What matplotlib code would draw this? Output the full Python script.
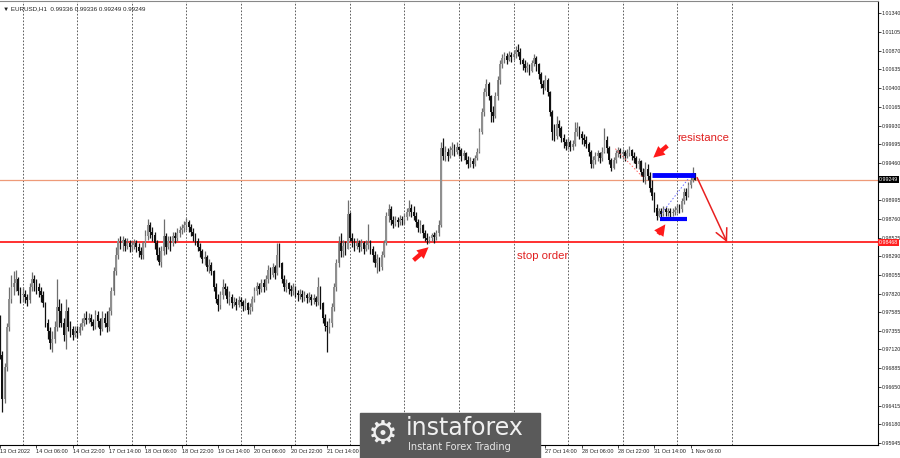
import numpy as np
import matplotlib
matplotlib.use('Agg')
import matplotlib.pyplot as plt
from matplotlib.patches import Rectangle
from matplotlib.transforms import blended_transform_factory

# EURUSD H1, prices in 1/10000 units
first_open = 9750

closes = [
    9705, 9650, 9690, 9740, 9775, 9790, 9795, 9800, 9785, 9780,
    9782, 9778, 9774, 9790, 9800, 9795, 9790, 9785, 9780, 9770,
    9745, 9735, 9720, 9725, 9740, 9765, 9760, 9745, 9730, 9760,
    9740, 9738, 9730, 9735, 9733, 9740, 9745, 9752, 9749, 9752,
    9747, 9742, 9755, 9748, 9738, 9752, 9745, 9740, 9760, 9785,
    9810, 9830, 9848, 9845, 9850, 9842, 9846, 9840, 9843, 9845,
    9840, 9835, 9830, 9845, 9855, 9868, 9860, 9856, 9845, 9830,
    9822, 9835, 9855, 9840, 9848, 9845, 9855, 9852, 9858, 9862,
    9865, 9868, 9872, 9866, 9860, 9855, 9848, 9840, 9835, 9825,
    9828, 9815, 9818, 9810, 9790, 9775, 9768, 9780, 9790, 9788,
    9775, 9778, 9770, 9772, 9768, 9774, 9771, 9766, 9770, 9762,
    9765, 9775, 9785, 9792, 9788, 9795, 9790, 9800, 9812, 9805,
    9815, 9808, 9830, 9820, 9800, 9790, 9795, 9788, 9785, 9790,
    9783, 9780, 9782, 9778, 9780, 9776, 9778, 9774, 9776, 9772,
    9790, 9770, 9752, 9742, 9740, 9745, 9765, 9790, 9820, 9845,
    9835, 9842, 9838, 9882, 9852, 9848, 9842, 9846, 9840, 9845,
    9838, 9843, 9846, 9838, 9830, 9820, 9825, 9815, 9830, 9845,
    9880, 9888, 9875, 9870, 9875, 9872, 9876, 9874, 9878, 9885,
    9890, 9885, 9880, 9872, 9865, 9868, 9858, 9852, 9850, 9852,
    9856, 9853, 9858, 9868, 9965, 9955, 9960, 9955, 9962, 9965,
    9960, 9966, 9962, 9955, 9958, 9950, 9945, 9948, 9945, 9952,
    9960, 9985, 10010, 10035, 10045, 10030, 10010, 10005, 10030, 10050,
    10070, 10078, 10080, 10076, 10082, 10079, 10083, 10088, 10085, 10075,
    10070, 10065, 10068, 10062, 10072, 10078, 10070, 10058, 10045, 10040,
    10050, 10035, 10010, 9985, 9980, 9995, 9990, 9978, 9972, 9968,
    9972, 9966, 9970, 9985, 9990, 9982, 9978, 9975, 9970, 9960,
    9945, 9950, 9955, 9958, 9952, 9960, 9975, 9965, 9950, 9940,
    9950, 9958, 9962, 9957, 9960, 9955, 9958, 9962, 9955, 9952,
    9945, 9948, 9935, 9928, 9938, 9930, 9915, 9905, 9890, 9880,
    9886, 9882, 9888, 9884, 9886, 9883, 9885, 9887, 9890, 9888,
    9898, 9910, 9905, 9918, 9925, 9934, 9925,
]

highs = [
    9755, 9710, 9695, 9745, 9790, 9805, 9810, 9812, 9803, 9790,
    9790, 9786, 9782, 9795, 9809, 9805, 9800, 9795, 9790, 9785,
    9772, 9750, 9740, 9735, 9748, 9800, 9775, 9770, 9752, 9775,
    9765, 9748, 9742, 9742, 9742, 9745, 9752, 9758, 9760, 9758,
    9756, 9750, 9762, 9760, 9752, 9760, 9758, 9760, 9765, 9790,
    9815, 9840, 9852, 9855, 9855, 9852, 9852, 9850, 9848, 9851,
    9850, 9845, 9840, 9848, 9862, 9876, 9872, 9866, 9860, 9850,
    9840, 9842, 9876, 9858, 9855, 9855, 9860, 9860, 9864, 9867,
    9870, 9873, 9877, 9875, 9870, 9864, 9858, 9852, 9845, 9838,
    9835, 9830, 9825, 9822, 9812, 9795, 9782, 9785, 9800, 9796,
    9792, 9785, 9782, 9778, 9776, 9779, 9778, 9774, 9776, 9772,
    9770, 9779, 9790, 9797, 9796, 9800, 9800, 9805, 9818, 9815,
    9820, 9818, 9846, 9845, 9822, 9805, 9800, 9797, 9793, 9795,
    9792, 9787, 9788, 9786, 9785, 9783, 9784, 9782, 9781, 9779,
    9803, 9792, 9772, 9756, 9748, 9752, 9770, 9795, 9825, 9855,
    9858, 9850, 9848, 9899, 9885, 9858, 9852, 9852, 9850, 9851,
    9848, 9849, 9870, 9850, 9842, 9835, 9832, 9828, 9835, 9850,
    9885, 9895, 9892, 9880, 9880, 9878, 9881, 9880, 9883, 9890,
    9899, 9895, 9892, 9884, 9876, 9874, 9870, 9862, 9858, 9855,
    9858, 9860, 9862, 9874, 9972, 9978, 9968, 9965, 9968, 9972,
    9970, 9972, 9968, 9965, 9963, 9960, 9955, 9953, 9952, 9956,
    9965, 9990, 10015, 10040, 10051, 10048, 10032, 10018, 10035, 10055,
    10076, 10083, 10086, 10084, 10087, 10086, 10088, 10093, 10095, 10090,
    10078, 10075, 10073, 10070, 10076, 10083, 10080, 10072, 10060, 10050,
    10056, 10053, 10036, 10012, 9995, 10005, 10000, 9993, 9982, 9976,
    9977, 9975, 9975, 9998, 9998, 9993, 9986, 9983, 9980, 9972,
    9962, 9955, 9960, 9962, 9960, 9966, 9990, 9980, 9968, 9952,
    9954, 9962, 9966, 9965, 9964, 9962, 9964, 9967, 9964, 9960,
    9955, 9952, 9950, 9940, 9947, 9945, 9935, 9925, 9910, 9895,
    9890, 9890, 9892, 9891, 9890, 9889, 9890, 9892, 9895, 9895,
    9902, 9915, 9915, 9922, 9930, 9941, 9934,
]

lows = [
    9700, 9633, 9645, 9685, 9735, 9770, 9780, 9785, 9780, 9770,
    9772, 9770, 9766, 9770, 9785, 9785, 9782, 9778, 9772, 9765,
    9740, 9725, 9712, 9709, 9720, 9735, 9740, 9740, 9722, 9712,
    9735, 9728, 9724, 9727, 9726, 9730, 9737, 9742, 9744, 9745,
    9741, 9736, 9738, 9740, 9730, 9735, 9740, 9734, 9735, 9755,
    9780, 9805, 9826, 9838, 9836, 9835, 9838, 9834, 9835, 9838,
    9834, 9828, 9825, 9826, 9840, 9850, 9852, 9848, 9838, 9824,
    9818, 9815, 9830, 9832, 9838, 9835, 9842, 9845, 9848, 9853,
    9857, 9860, 9862, 9860, 9855, 9848, 9843, 9835, 9828, 9820,
    9818, 9810, 9808, 9805, 9785, 9770, 9760, 9763, 9775, 9780,
    9770, 9768, 9764, 9766, 9762, 9765, 9766, 9760, 9762, 9756,
    9757, 9760, 9772, 9780, 9782, 9784, 9784, 9786, 9795, 9800,
    9803, 9800, 9805, 9815, 9795, 9785, 9784, 9782, 9779, 9780,
    9778, 9773, 9775, 9772, 9773, 9770, 9772, 9768, 9769, 9767,
    9768, 9763, 9745, 9735, 9709, 9732, 9740, 9760, 9785, 9815,
    9828, 9828, 9830, 9838, 9848, 9840, 9836, 9838, 9834, 9836,
    9832, 9835, 9838, 9832, 9822, 9815, 9808, 9810, 9812, 9828,
    9843, 9872, 9868, 9865, 9867, 9866, 9868, 9868, 9870, 9874,
    9880, 9878, 9874, 9866, 9860, 9858, 9852, 9848, 9844, 9845,
    9848, 9846, 9849, 9855, 9866, 9950, 9948, 9948, 9952, 9956,
    9955, 9957, 9955, 9948, 9950, 9945, 9940, 9941, 9940, 9942,
    9950, 9958, 9982, 10005, 10030, 10025, 9997, 9998, 10002, 10025,
    10045, 10065, 10072, 10070, 10074, 10073, 10075, 10078, 10080, 10070,
    10063, 10060, 10060, 10057, 10060, 10068, 10062, 10052, 10040, 10033,
    10038, 10030, 10005, 9975, 9974, 9976, 9980, 9972, 9965, 9962,
    9964, 9961, 9962, 9968, 9980, 9976, 9970, 9968, 9965, 9955,
    9940, 9940, 9945, 9948, 9946, 9948, 9958, 9958, 9945, 9936,
    9938, 9946, 9954, 9952, 9951, 9949, 9952, 9955, 9950, 9946,
    9940, 9938, 9930, 9922, 9920, 9925, 9910, 9900, 9885, 9875,
    9878, 9877, 9880, 9879, 9880, 9878, 9880, 9881, 9883, 9883,
    9885, 9895, 9900, 9903, 9915, 9922, 9925,
]

time_labels = ['13 Oct 2022', '14 Oct 06:00', '14 Oct 22:00', '17 Oct 14:00',
               '18 Oct 06:00', '18 Oct 22:00', '19 Oct 14:00', '20 Oct 06:00',
               '20 Oct 22:00', '21 Oct 14:00', '24 Oct 06:00', '24 Oct 22:00',
               '25 Oct 14:00', '26 Oct 06:00', '26 Oct 22:00', '27 Oct 14:00',
               '28 Oct 06:00', '28 Oct 22:00', '31 Oct 14:00', '1 Nov 06:00']

price_ticks = [1.01340, 1.01105, 1.00870, 1.00635, 1.00400, 1.00165, 0.99930,
               0.99695, 0.99460, 0.98995, 0.98760, 0.98525, 0.98290, 0.98055,
               0.97820, 0.97585, 0.97355, 0.97120, 0.96885, 0.96650, 0.96415,
               0.96180, 0.95945]

bid_price = 0.99249
stop_price = 0.98468
header = 'EURUSD,H1  0.99336 0.99336 0.99249 0.99249'

SMALL = ['Liberation Sans', 'DejaVu Sans']

PIP = 10000.0
c = np.array(closes) / PIP
h = np.array(highs) / PIP
l = np.array(lows) / PIP
o = np.array([first_open] + closes[:-1]) / PIP
x = np.arange(len(c))

fig = plt.figure(figsize=(9, 4.58), dpi=100)
ax = fig.add_axes([0, 13 / 458, 878 / 900, 1 - 13 / 458 - 0.003])

# day separators
for d in range(10, 330, 24):
    ax.axvline(d, color='#444444', lw=0.6, ls=(0, (2, 2)), zorder=0)

top = np.maximum(o, c)
bot = np.minimum(o, c)
up = c >= o
dn = ~up
ax.vlines(x[up], np.minimum(l, bot)[up], np.maximum(h, top)[up], color='#6e6e6e', lw=0.9, zorder=2)
ax.vlines(x[dn], np.minimum(l, bot)[dn], np.maximum(h, top)[dn], color='#111111', lw=0.9, zorder=2)
body = np.maximum(top - bot, 0.00006)
ax.bar(x[up], body[up], bottom=bot[up], width=0.75, color='#8f8f8f', linewidth=0, zorder=3)
ax.bar(x[dn], body[dn], bottom=bot[dn], width=0.75, color='#111111', linewidth=0, zorder=3)

# horizontal levels
ax.axhline(bid_price, color='#ee9a78', lw=0.9, zorder=1)
ax.axhline(stop_price, color='#ff2020', lw=1.3, zorder=1)

# pattern markup
ax.plot([287, 306], [0.99315, 0.99315], color='#0000ff', lw=3.5, solid_capstyle='butt', zorder=5)
ax.plot([290.5, 302.5], [0.98759, 0.98759], color='#0000ff', lw=3, solid_capstyle='butt', zorder=5)
ax.plot([290.5, 305], [0.98803, 0.99340], color='#6a6aff', lw=0.7, ls=(0, (1.5, 2)), zorder=4)
ax.plot([270.8, 283.1], [0.99640, 0.99277], color='#ff6060', lw=0.7, ls=(0, (1.5, 2)), zorder=4)

red_arrow = dict(arrowstyle='simple,head_length=0.9,head_width=0.9,tail_width=0.35',
                 color='#ff1a1a', lw=0, mutation_scale=9, shrinkA=0, shrinkB=0)
ax.annotate('', xy=(188.6, 0.98403), xytext=(182, 0.98240), arrowprops=red_arrow)
ax.annotate('', xy=(287.5, 0.99528), xytext=(293.7, 0.99677), arrowprops=red_arrow)
ax.annotate('', xy=(292.8, 0.98690), xytext=(289.7, 0.98565), arrowprops=red_arrow)
ax.annotate('', xy=(320, 0.98465), xytext=(306.8, 0.99277),
            arrowprops=dict(arrowstyle='->,head_length=0.6,head_width=0.3', color='#e82020',
                            lw=1.1, mutation_scale=14, shrinkA=0, shrinkB=0))

ax.text(298, 0.99777, 'resistance', color='#e02020', fontsize=8.2, family=SMALL, ha='left', va='center')
ax.text(227.5, 0.98290, 'stop order', color='#e02020', fontsize=8.2, family=SMALL, ha='left', va='center')

ax.set_xlim(0.46, 386.4)
ax.set_ylim(0.9592, 1.0149)

ax.yaxis.tick_right()
ax.set_yticks(price_ticks)
ax.set_yticklabels(['%.5f' % p for p in price_ticks], family=SMALL)
xt = [16 * k for k in range(len(time_labels))]
ax.set_xticks(xt)
ax.set_xticklabels(time_labels, family=SMALL)
for pos, lbl in zip(xt, ax.get_xticklabels()):
    lbl.set_ha('left')
    # labels sitting under the logo box are hidden in the screenshot
    if 158 <= pos <= 236:
        lbl.set_visible(False)
ax.tick_params(axis='x', labelsize=4, length=2, width=0.6, colors='#222222', pad=0.6)
ax.tick_params(axis='y', labelsize=3.8, length=2, width=0.6, colors='#222222', pad=0.5)
ax.spines['left'].set_visible(False)
ax.spines['top'].set_color('#888888')
for s in ['right', 'bottom']:
    ax.spines[s].set_linewidth(0.8)

# price tags on the scale
tr = blended_transform_factory(ax.transAxes, ax.transData)
ax.text(1.001, bid_price, '%.5f' % bid_price, transform=tr, fontsize=3.8, family=SMALL, color='white',
        va='center', ha='left', bbox=dict(boxstyle='square,pad=0.2', fc='black', ec='none'))
ax.text(1.001, stop_price, '%.5f' % stop_price, transform=tr, fontsize=3.8, family=SMALL, color='white',
        va='center', ha='left', bbox=dict(boxstyle='square,pad=0.2', fc='#ff2020', ec='none'))

ax.text(0.003, 0.99, '\u25bc ' + header, transform=ax.transAxes, fontsize=4.5, family=SMALL,
        color='#222222', va='top', ha='left')

# logo
fig.add_artist(Rectangle((360 / 900, 0), 180 / 900, 45 / 458, transform=fig.transFigure,
                         color='#5a5a5a', zorder=10))
fig.text(383 / 900, 1 - 434 / 458, '\u2699', fontsize=24, color='#f0f0f0', ha='center', va='center', zorder=11)
fig.text(406 / 900, 1 - 428 / 458, 'instaforex', fontsize=17, color='#f0f0f0', ha='left', va='center', zorder=11)
fig.text(408 / 900, 1 - 447 / 458, 'Instant Forex Trading', fontsize=7, color='#e8e8e8', ha='left', va='center', zorder=11)

fig.savefig('out.png', dpi=100)
